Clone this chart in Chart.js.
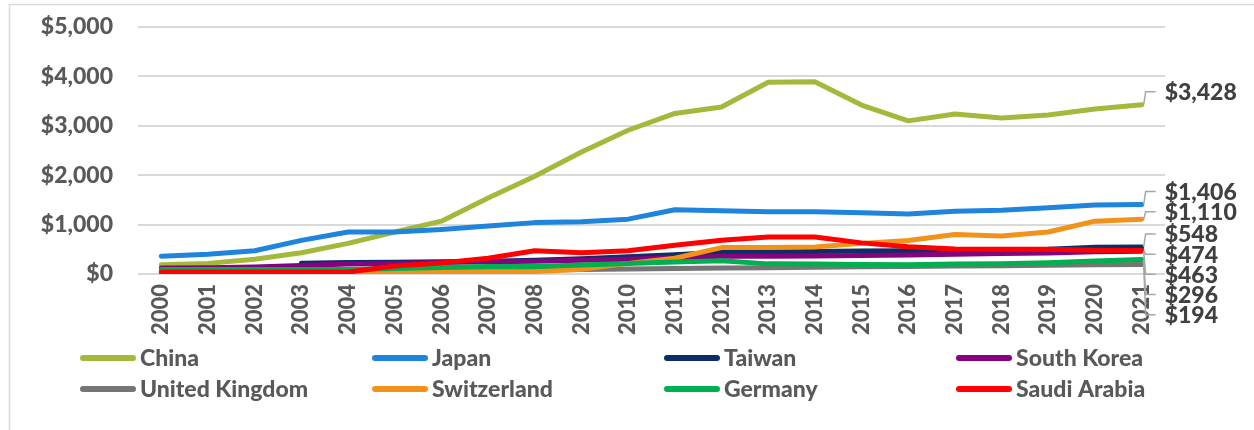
<!DOCTYPE html>
<html>
<head>
<meta charset="utf-8">
<script src="https://cdn.jsdelivr.net/npm/chart.js@4.4.1/dist/chart.umd.min.js"></script>
<style>
  html, body { margin: 0; padding: 0; background: #ffffff; }
  #wrap { width: 1254px; height: 430px; }
</style>
</head>
<body>
<div id="wrap"><canvas id="chart" width="1254" height="430"></canvas></div>
<script>
// Years on the category axis
const years = ['2000','2001','2002','2003','2004','2005','2006','2007','2008','2009','2010',
               '2011','2012','2013','2014','2015','2016','2017','2018','2019','2020','2021'];

// Value axis ticks (USD billions)
const yTicks = [0, 1000, 2000, 3000, 4000, 5000];

// Series, one per holder
const china       = [185, 215, 300, 430, 620, 850, 1070, 1540, 1980, 2470, 2910, 3250, 3380, 3880, 3890, 3420, 3100, 3240, 3160, 3220, 3340, 3428];
const japan       = [360, 400, 470, 680, 850, 850, 900, 970, 1040, 1060, 1110, 1300, 1280, 1260, 1260, 1240, 1215, 1270, 1290, 1340, 1395, 1406];
const taiwan      = [null, null, null, 220, 235, 240, 250, 260, 280, 310, 350, 390, 440, 450, 455, 465, 470, 480, 490, 500, 540, 548];
const southKorea  = [120, 125, 140, 170, 200, 215, 235, 250, 260, 280, 300, 330, 360, 360, 365, 375, 385, 400, 415, 425, 450, 463];
const unitedKingdom = [60, 60, 60, 60, 60, 65, 70, 70, 75, 90, 100, 110, 120, 125, 135, 145, 150, 160, 165, 175, 185, 194];
const switzerland = [20, 20, 25, 25, 30, 35, 40, 45, 50, 95, 215, 320, 535, 535, 545, 620, 680, 800, 770, 850, 1070, 1110];
const germany     = [90, 90, 90, 90, 90, 110, 130, 150, 150, 180, 215, 245, 270, 205, 200, 190, 185, 200, 210, 230, 265, 296];
const saudiArabia = [40, 40, 40, 40, 40, 160, 225, 320, 470, 430, 470, 580, 685, 750, 750, 630, 550, 505, 500, 500, 480, 474];

const seriesNames = ['China', 'Japan', 'Taiwan', 'South Korea', 'United Kingdom', 'Switzerland', 'Germany', 'Saudi Arabia'];
const seriesData  = [china, japan, taiwan, southKorea, unitedKingdom, switzerland, germany, saudiArabia];
const seriesColors = ['#A6B83C', '#1E84DC', '#0C2D66', '#85037F', '#757575', '#F2921A', '#00AF4F', '#FF0000'];

const FONT = 'Lato, "Open Sans", "DejaVu Sans", sans-serif';
const WEIGHT = '900';
const fmt = v => '$' + v.toLocaleString('en-US');

// Light frame around the plot block
const framePlugin = {
  id: 'frame',
  beforeDraw(chart) {
    const ctx = chart.ctx;
    ctx.save();
    ctx.fillStyle = '#ffffff';
    ctx.fillRect(0, 0, chart.width, chart.height);
    ctx.strokeStyle = '#d9d9d9';
    ctx.lineWidth = 1.5;
    ctx.beginPath();
    ctx.moveTo(9.5, chart.height);
    ctx.lineTo(9.5, 4.5);
    ctx.lineTo(chart.width, 4.5);
    ctx.stroke();
    ctx.restore();
  }
};

// End-of-line value labels with leader lines, spread apart so they do not collide
const endLabelPlugin = {
  id: 'endLabels',
  afterDatasetsDraw(chart) {
    const ctx = chart.ctx;
    const items = [];
    chart.data.datasets.forEach((ds, i) => {
      const meta = chart.getDatasetMeta(i);
      const last = ds.data.length - 1;
      const pt = meta.data[last];
      items.push({ x: pt.x, y: pt.y, text: fmt(ds.data[last]) });
    });
    items.sort((a, b) => a.y - b.y);
    const gap = 20.2;
    let prev = -Infinity;
    items.forEach(it => {
      let ly = it.y - 13;
      if (ly < prev + gap) ly = prev + gap;
      it.ly = ly;
      prev = ly;
    });
    ctx.save();
    ctx.strokeStyle = '#a6a6a6';
    ctx.lineWidth = 1.5;
    items.forEach(it => {
      ctx.beginPath();
      ctx.moveTo(it.x + 2, it.y);
      ctx.lineTo(it.x + 4, it.ly);
      ctx.lineTo(it.x + 14, it.ly);
      ctx.stroke();
    });
    ctx.fillStyle = '#404040';
    ctx.font = WEIGHT + ' 23px ' + FONT;
    ctx.textAlign = 'left';
    ctx.textBaseline = 'middle';
    items.forEach(it => ctx.fillText(it.text, it.x + 23, it.ly + 1));
    ctx.restore();
  }
};

// Two-row legend with fixed columns under the axis
const gridLegendPlugin = {
  id: 'gridLegend',
  afterDraw(chart, args, opts) {
    const ctx = chart.ctx;
    ctx.save();
    ctx.font = WEIGHT + ' 23px ' + FONT;
    ctx.textBaseline = 'middle';
    ctx.textAlign = 'left';
    chart.data.datasets.forEach((ds, i) => {
      const col = i % opts.columns;
      const row = Math.floor(i / opts.columns);
      const x = opts.left + col * opts.colWidth;
      const y = opts.top + row * opts.rowHeight;
      ctx.strokeStyle = ds.borderColor;
      ctx.lineWidth = 6;
      ctx.lineCap = 'round';
      ctx.beginPath();
      ctx.moveTo(x + 3, y);
      ctx.lineTo(x + 53, y);
      ctx.stroke();
      ctx.fillStyle = '#595959';
      ctx.fillText(ds.label, x + 60, y + 1);
    });
    ctx.restore();
  }
};

const datasets = seriesNames.map((name, i) => ({
  label: name,
  data: seriesData[i],
  borderColor: seriesColors[i],
  backgroundColor: seriesColors[i],
  borderWidth: 5,
  borderCapStyle: 'round',
  borderJoinStyle: 'round',
  pointRadius: 0,
  tension: 0,
  fill: false,
  spanGaps: false,
  order: seriesNames.length - i
}));

new Chart(document.getElementById('chart'), {
  type: 'line',
  data: { labels: years, datasets },
  plugins: [framePlugin, endLabelPlugin, gridLegendPlugin],
  options: {
    responsive: false,
    devicePixelRatio: 1,
    animation: false,
    layout: { padding: { left: 0, right: 89, top: 27, bottom: 0 } },
    plugins: {
      legend: { display: false },
      tooltip: { enabled: false },
      gridLegend: { left: 80, top: 358, colWidth: 292, rowHeight: 31, columns: 4 }
    },
    scales: {
      x: {
        type: 'category',
        offset: true,
        grid: { display: false, drawTicks: false },
        border: { display: false },
        afterFit(scale) { scale.height = 156; },
        ticks: {
          color: '#595959',
          font: { family: FONT, size: 22, weight: WEIGHT },
          minRotation: 90,
          maxRotation: 90,
          autoSkip: false,
          padding: 10
        }
      },
      y: {
        min: 0,
        max: 5000,
        afterFit(scale) { scale.width = 138; },
        afterBuildTicks(scale) { scale.ticks = yTicks.map(v => ({ value: v })); },
        grid: { color: '#d9d9d9', lineWidth: 2, drawTicks: true, tickLength: 25, tickColor: 'rgba(0,0,0,0)' },
        border: { display: false },
        ticks: {
          color: '#595959',
          font: { family: FONT, size: 23, weight: WEIGHT },
          padding: 0,
          callback: v => fmt(v)
        }
      }
    }
  }
});
</script>
</body>
</html>
